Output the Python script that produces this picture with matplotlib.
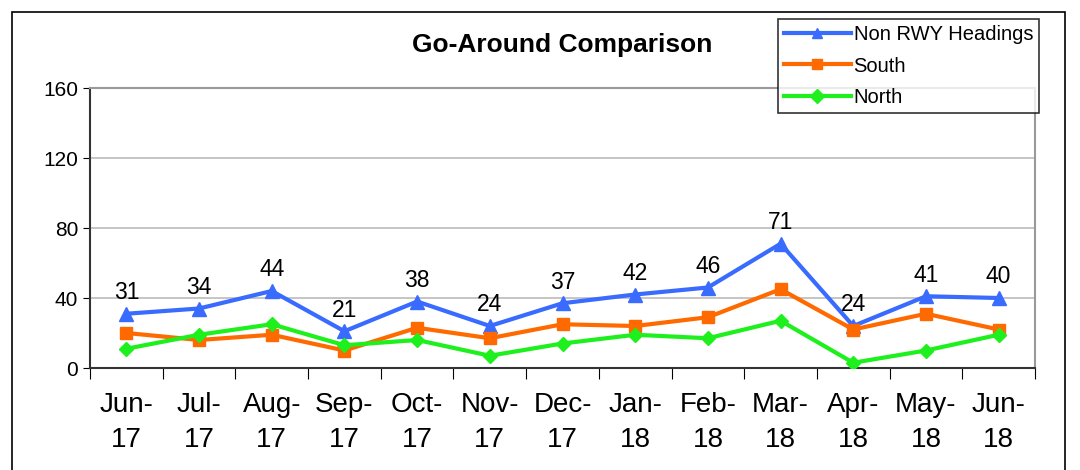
import matplotlib
matplotlib.use('Agg')
import matplotlib.pyplot as plt
from matplotlib.patches import Rectangle

plt.rcParams['font.family'] = ['Liberation Sans', 'DejaVu Sans']

# Data
months = ['Jun-\n17', 'Jul-\n17', 'Aug-\n17', 'Sep-\n17', 'Oct-\n17', 'Nov-\n17', 'Dec-\n17',
          'Jan-\n18', 'Feb-\n18', 'Mar-\n18', 'Apr-\n18', 'May-\n18', 'Jun-\n18']
non_rwy = [31, 34, 44, 21, 38, 24, 37, 42, 46, 71, 24, 41, 40]
south = [20, 16, 19, 10, 23, 17, 25, 24, 29, 45, 22, 31, 22]
north = [11, 19, 25, 13, 16, 7, 14, 19, 17, 27, 3, 10, 19]
y_ticks = [0, 40, 80, 120, 160]

fig = plt.figure(figsize=(10.8, 4.7), dpi=100)
ax = fig.add_axes([90 / 1080, 1 - 368 / 470, 945 / 1080, 280 / 470])

# outer frame
fig.patches.append(Rectangle((12 / 1080, -0.01), 1053 / 1080, 1 - 12 / 470 + 0.01,
                             transform=fig.transFigure, fill=False, edgecolor='black', lw=1.2))

x = list(range(len(months)))
ax.plot(x, non_rwy, color='#3A6BFF', lw=3, marker='^', ms=10, label='Non RWY Headings', zorder=3)
ax.plot(x, south, color='#FF6A00', lw=3, marker='s', ms=8.5, label='South', zorder=3)
ax.plot(x, north, color='#1EF01E', lw=3, marker='D', ms=7, label='North', zorder=3)

for xi, v in zip(x, non_rwy):
    ax.annotate(str(v), (xi, v), xytext=(0, 7), textcoords='offset points',
                ha='center', va='bottom', fontsize=16.5)

ax.set_xlim(-0.5, len(months) - 0.5)
ax.set_ylim(0, 160)
ax.set_yticks(y_ticks)
ax.tick_params(axis='y', labelsize=15, length=5, direction='out')
ax.set_xticks([i - 0.5 for i in range(len(months) + 1)], minor=False)
ax.set_xticklabels([])
ax.set_xticks(x, minor=True)
ax.set_xticklabels(months, minor=True, fontsize=20, linespacing=1.45)
ax.tick_params(axis='x', which='major', length=8, direction='out')
ax.tick_params(axis='x', which='minor', length=0, pad=17)
ax.yaxis.grid(True, color='#BBBBBB', lw=1.2)
ax.set_axisbelow(True)

for s in ['top', 'right']:
    ax.spines[s].set_color('#999999')
    ax.spines[s].set_linewidth(1.5)
for s in ['left', 'bottom']:
    ax.spines[s].set_color('#333333')
    ax.spines[s].set_linewidth(1.5)

fig.text(562 / 1080, 1 - 45 / 470, 'Go-Around Comparison', ha='center', va='center',
         fontsize=19, fontweight='bold')

leg = fig.legend(loc='upper left', bbox_to_anchor=(778 / 1080, 1 - 19 / 470), fontsize=14.5,
                 frameon=True, fancybox=False, edgecolor='black', borderpad=0.3,
                 labelspacing=0.62, handlelength=3.3, handletextpad=0.15, borderaxespad=0)
leg.get_frame().set_linewidth(1.2)
for h in leg.legend_handles:
    h.set_markersize(7)

fig.savefig('out.png', dpi=100)
